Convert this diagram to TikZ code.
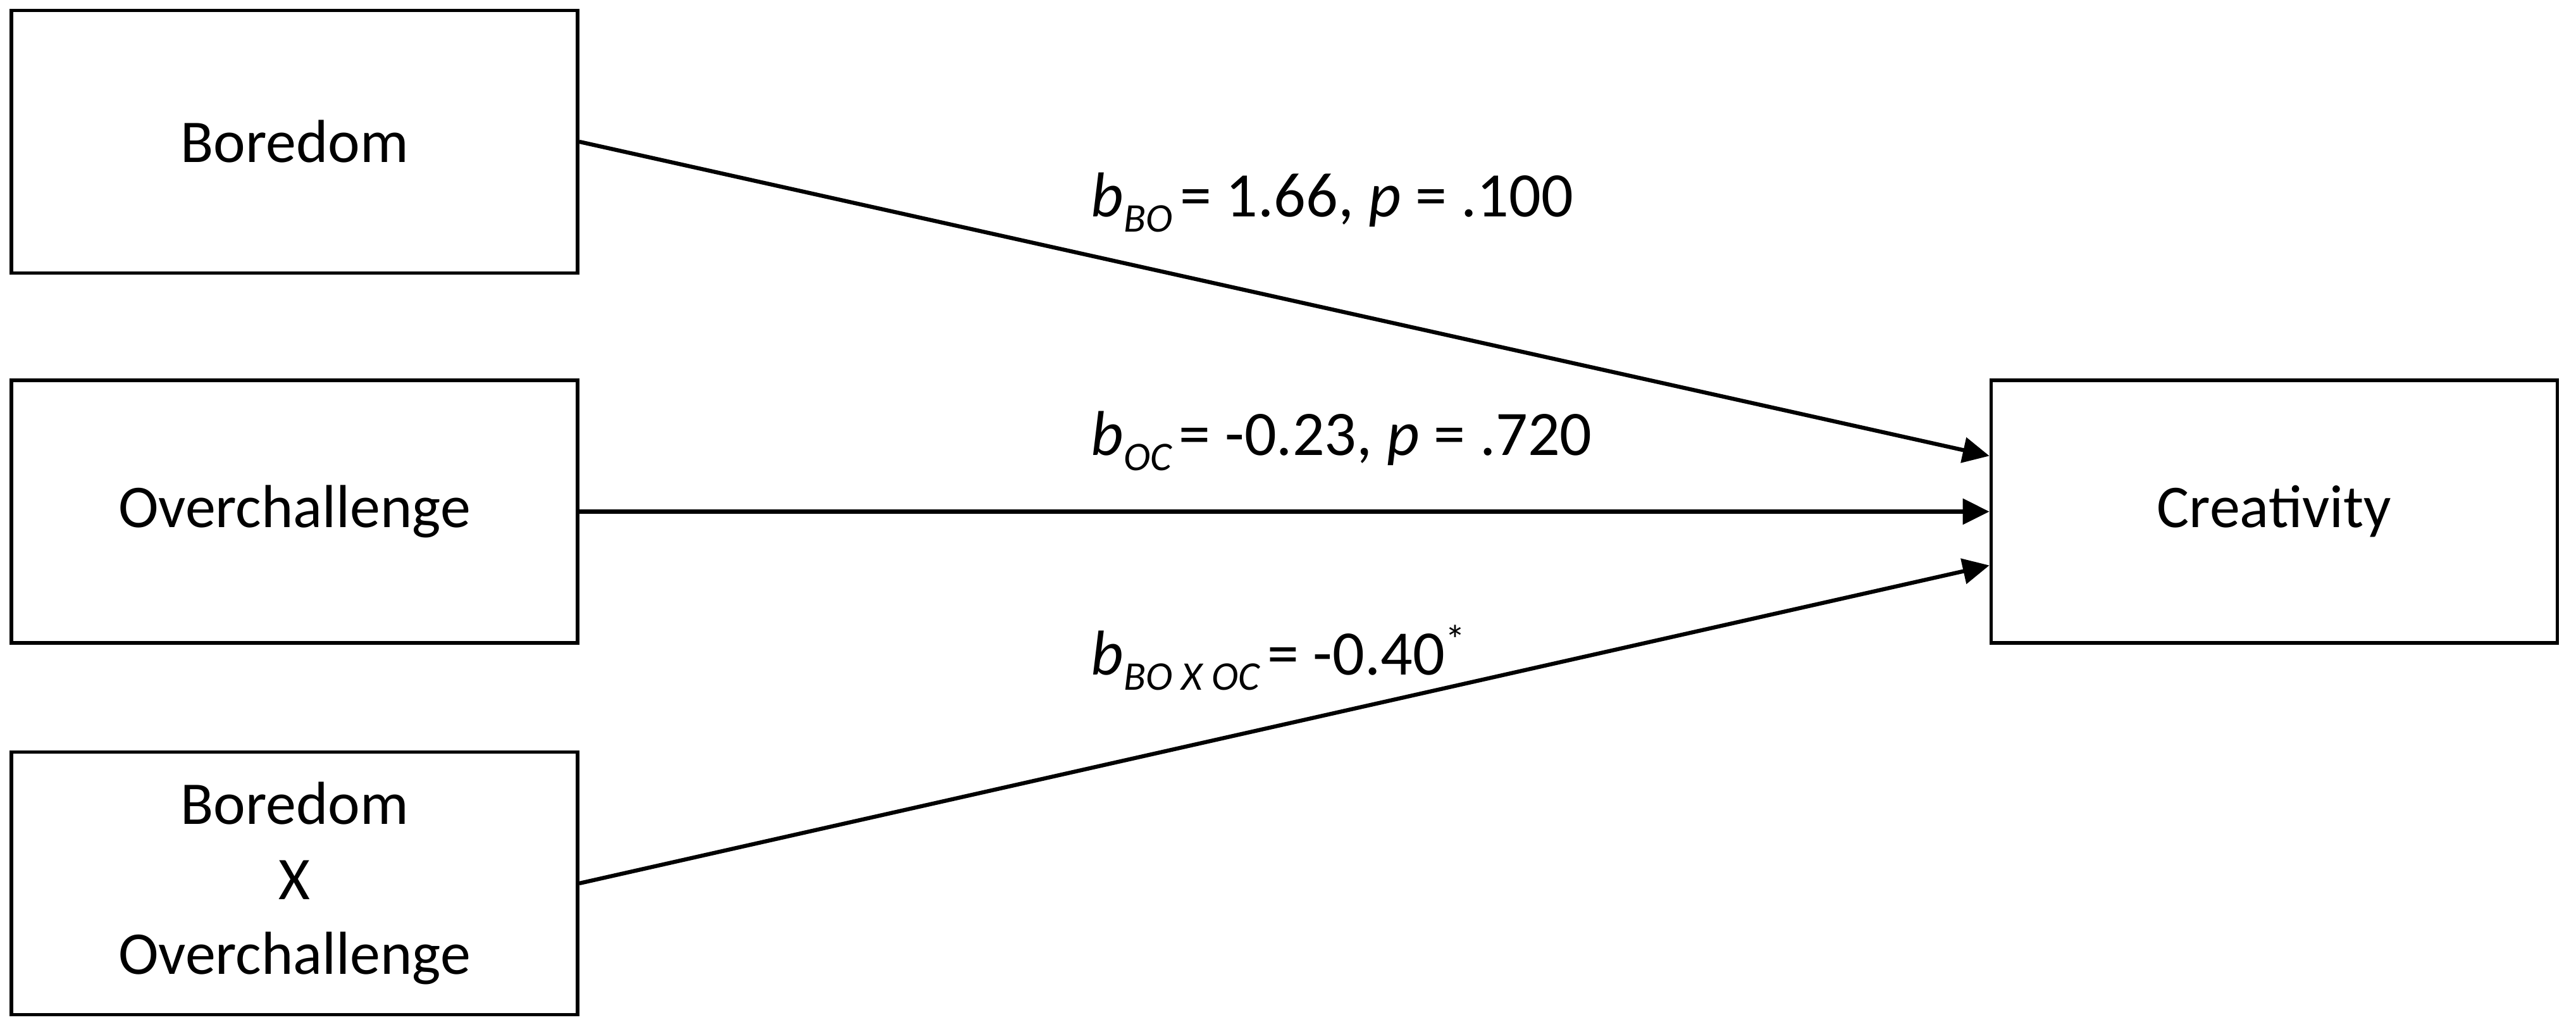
\documentclass[tikz,border=0pt]{standalone}
\usepackage{fontspec}
\setmainfont{Carlito}
\usepackage{tikz}
\usetikzlibrary{calc,arrows.meta}
\newcommand{\bsub}[1]{\raisebox{-0.23em}{\fontsize{18.3}{18.3}\selectfont\itshape #1}\hspace{0.12em}}
\newcommand{\starsup}{\raisebox{0.33em}{\fontsize{18.3}{18.3}\selectfont *}}

\begin{document}
\begin{tikzpicture}[
  font=\fontsize{27.3}{33.6}\selectfont,
  var/.style={draw, line width=1.6pt, minimum width=8.95cm,
    minimum height=4.15cm, inner sep=0pt, align=center},
  effect/.style={line width=1.8pt,
    -{Triangle[length=0.42cm,width=0.4cm]}},
  coef/.style={anchor=base west, inner sep=0pt,
    font=\fontsize{28.5}{33.6}\selectfont}]
  \useasboundingbox (0,0) rectangle (40.72,16.23);
  \def\xl{4.655}
  \def\xr{35.95}
  \node[var](bor) at (\xl,13.99) {Boredom};
  \node[var](ovc) at (\xl,8.145) {Overchallenge};
  \node[var](int) at (\xl,2.27) {Boredom\\X\\Overchallenge};
  \node[var](cre) at (\xr,8.145) {Creativity};
  \coordinate(in1) at ($(cre.west)+(0,0.88)$);
  \coordinate(in3) at ($(cre.west)+(0,-0.85)$);
  \draw[effect](bor.east)--(in1);
  \draw[effect](ovc.east)--(cre.west);
  \draw[effect](int.east)--(in3);
  \node[coef](c1) at (17.24,12.80)
    {\textit{b}\bsub{BO}= 1.66, \textit{p} = .100};
  \node[coef](c2) at (17.24,9.03)
    {\textit{b}\bsub{OC}= -0.23, \textit{p} = .720};
  \node[coef](c3) at (17.24,5.56)
    {\textit{b}\bsub{BO X OC}= -0.40\starsup};
\end{tikzpicture}
\end{document}
